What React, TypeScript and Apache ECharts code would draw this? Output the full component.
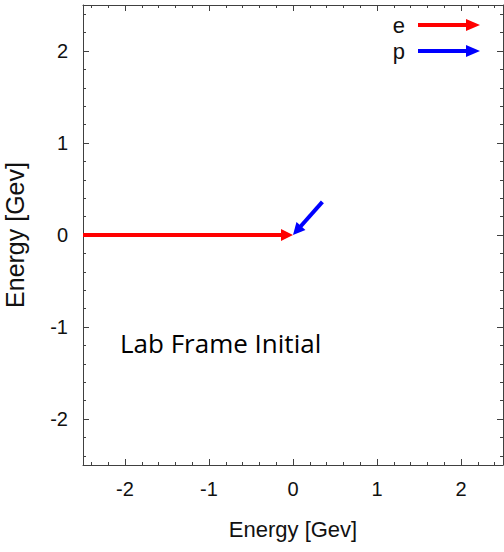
import React, { useEffect, useRef } from "react";
import * as echarts from "echarts";

// Data: vectors as [x0, y0, x1, y1]
const seriesNames = ["e", "p"];
const seriesColors = ["#ff0000", "#0000ff"];
const eVector = [-2.5, 0, 0, 0];
const pVector = [0.35, 0.36, 0, 0];
const axisMin = -2.5;
const axisMax = 2.5;
const xTitle = "Energy [Gev]";
const yTitle = "Energy [Gev]";
const annotation = "Lab Frame Initial";

const FONT = "'Liberation Sans', Arial, sans-serif";
const AXIS_COLOR = "#404040";
const TEXT_COLOR = "#111";

const ARROW_ICON = "path://M0,4 L48,4 L48,0 L62,6 L48,12 L48,8 L0,8 Z";

function renderArrow(color: string) {
  return (params: any, api: any) => {
    const p0 = api.coord([api.value(0), api.value(1)]);
    const p1 = api.coord([api.value(2), api.value(3)]);
    const dx = p1[0] - p0[0];
    const dy = p1[1] - p0[1];
    const len = Math.hypot(dx, dy) || 1;
    const ux = dx / len;
    const uy = dy / len;
    const headLen = 12;
    const headW = 6;
    const bx = p1[0] - ux * headLen;
    const by = p1[1] - uy * headLen;
    const nx = -uy;
    const ny = ux;
    return {
      type: "group",
      children: [
        {
          type: "line",
          shape: { x1: p0[0], y1: p0[1], x2: bx + ux * 2, y2: by + uy * 2 },
          style: { stroke: color, lineWidth: 4 },
        },
        {
          type: "polygon",
          shape: {
            points: [
              [p1[0], p1[1]],
              [bx + nx * headW, by + ny * headW],
              [bx - nx * headW, by - ny * headW],
            ],
          },
          style: { fill: color },
        },
      ],
    };
  };
}

function majorAxis(pos: string, isMain: boolean, name: string, isX: boolean): any {
  return {
    type: "value",
    position: pos,
    min: axisMin,
    max: axisMax,
    splitNumber: 5,
    minInterval: 1,
    maxInterval: 1,
    axisLine: { show: true, onZero: false, lineStyle: { color: AXIS_COLOR, width: 1 } },
    axisTick: { show: true, inside: true, length: 6, lineStyle: { color: AXIS_COLOR } },
    axisLabel: {
      show: isMain,
      showMinLabel: false,
      showMaxLabel: false,
      margin: isX ? 14 : 15,
      fontSize: 20,
      fontFamily: FONT,
      color: TEXT_COLOR,
    },
    splitLine: { show: false },
    name: isMain ? name : "",
    nameLocation: "middle",
    nameGap: isX ? 53 : 56,
    nameTextStyle: {
      fontSize: isX ? 22 : 25,
      fontFamily: FONT,
      color: TEXT_COLOR,
    },
  };
}

function minorAxis(pos: string): any {
  return {
    type: "value",
    position: pos,
    min: axisMin,
    max: axisMax,
    splitNumber: 25,
    minInterval: 0.2,
    maxInterval: 0.2,
    axisLine: { show: false, onZero: false },
    axisTick: { show: true, inside: true, length: 3, lineStyle: { color: AXIS_COLOR } },
    axisLabel: { show: false },
    splitLine: { show: false },
  };
}

export default function App() {
  const ref = useRef<HTMLDivElement>(null);
  useEffect(() => {
    document.body.style.margin = "0";
    if (!ref.current) return;
    const chart = echarts.init(ref.current, undefined, { renderer: "svg" });
    const vectors = [eVector, pVector];
    chart.setOption({
      animation: false,
      backgroundColor: "#ffffff",
      grid: {
        left: 83,
        right: 1,
        top: 5,
        bottom: 87,
        containLabel: false,
        outerBoundsMode: "none",
      },
      legend: {
        orient: "vertical",
        right: 19,
        top: 9,
        align: "right",
        itemWidth: 62,
        itemHeight: 12,
        itemGap: 4,
        data: seriesNames.map((n) => ({ name: n, icon: ARROW_ICON })),
        textStyle: { fontSize: 22, fontFamily: FONT, color: TEXT_COLOR, padding: [0, 8, 0, 0] },
      },
      xAxis: [
        majorAxis("bottom", true, xTitle, true),
        minorAxis("bottom"),
        majorAxis("top", false, "", true),
        minorAxis("top"),
      ],
      yAxis: [
        majorAxis("left", true, yTitle, false),
        minorAxis("left"),
        majorAxis("right", false, "", false),
        minorAxis("right"),
      ],
      graphic: [
        {
          type: "text",
          left: 120,
          top: 330,
          style: {
            text: annotation,
            fontSize: 26,
            fontFamily: "'Open Sans', sans-serif",
            fill: "#000",
          },
        },
      ],
      series: seriesNames.map((n, i) => ({
        name: n,
        type: "custom",
        coordinateSystem: "cartesian2d",
        xAxisIndex: 0,
        yAxisIndex: 0,
        itemStyle: { color: seriesColors[i] },
        renderItem: renderArrow(seriesColors[i]),
        encode: { x: [0, 2], y: [1, 3] },
        data: [vectors[i]],
      })),
    });
    return () => chart.dispose();
  }, []);
  return <div ref={ref} style={{ width: 504, height: 552 }} />;
}
